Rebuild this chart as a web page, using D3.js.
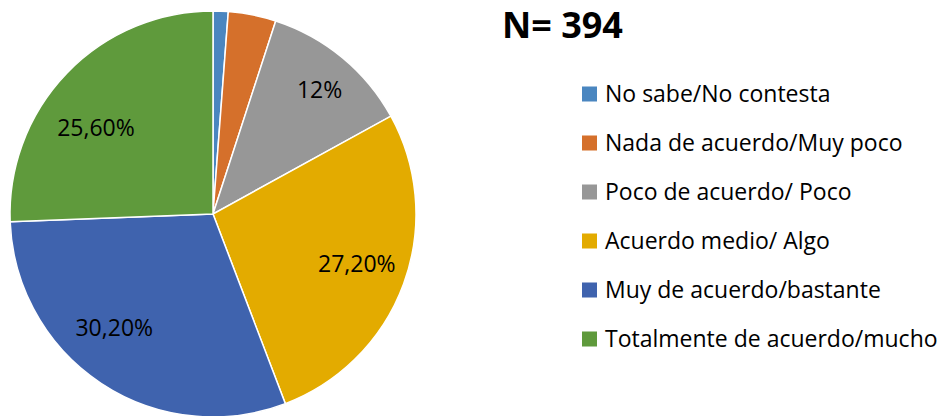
<!DOCTYPE html>
<html>
<head>
<meta charset="utf-8">
<script src="https://cdn.jsdelivr.net/npm/d3@7"></script>
<style>
  body { margin: 0; background: #fff; }
  text { font-family: "Open Sans", "Noto Sans", sans-serif; }
</style>
</head>
<body>
<div id="chart"></div>
<script>
// categories and shares (percent), clockwise from 12 o'clock
var categories = ['No sabe/No contesta', 'Nada de acuerdo/Muy poco', 'Poco de acuerdo/ Poco',
                  'Acuerdo medio/ Algo', 'Muy de acuerdo/bastante', 'Totalmente de acuerdo/mucho'];
var values = [1.2, 3.8, 12, 27.2, 30.2, 25.6];
var labels = ['', '', '12%', '27,20%', '30,20%', '25,60%'];
var colors = ['#4a86c0', '#d5702b', '#979797', '#e3ab00', '#3f63ae', '#5f9a3c'];
var title = 'N= 394';

// small nudges so the labels sit where the original placed them
var labelNudge = [[0, 0], [0, 0], [11, -8], [3, -2], [-16, -11], [-9, 18]];

var width = 944, height = 416;
var cx = 213, cy = 214, radius = 203;

var svg = d3.select('#chart').append('svg')
    .attr('width', width)
    .attr('height', height);

var data = categories.map(function(c, i) {
    return { name: c, value: values[i], label: labels[i], color: colors[i], nudge: labelNudge[i] };
});

var pie = d3.pie().sort(null).value(function(d) { return d.value; });
var arc = d3.arc().innerRadius(0).outerRadius(radius);
var labelArc = d3.arc().innerRadius(150).outerRadius(150);

var g = svg.append('g').attr('transform', 'translate(' + cx + ',' + cy + ')');

var slices = g.selectAll('.slice')
    .data(pie(data))
    .enter().append('g')
    .attr('class', 'slice');

slices.append('path')
    .attr('d', arc)
    .attr('fill', function(d) { return d.data.color; })
    .attr('stroke', '#fff')
    .attr('stroke-width', 1.5);

slices.append('text')
    .attr('transform', function(d) {
        var c = labelArc.centroid(d);
        return 'translate(' + (c[0] + d.data.nudge[0]) + ',' + (c[1] + d.data.nudge[1]) + ')';
    })
    .attr('text-anchor', 'middle')
    .attr('dy', '0.35em')
    .attr('font-size', 23)
    .attr('fill', '#000')
    .text(function(d) { return d.data.label; });

// title
svg.append('text')
    .attr('x', 502)
    .attr('y', 38)
    .attr('font-size', 36)
    .attr('font-weight', 'bold')
    .attr('fill', '#000')
    .text(title);

// legend
var legend = svg.append('g').attr('transform', 'translate(582,94)');
var item = legend.selectAll('.item')
    .data(data)
    .enter().append('g')
    .attr('class', 'item')
    .attr('transform', function(d, i) { return 'translate(0,' + (i * 49) + ')'; });

item.append('rect')
    .attr('x', 0).attr('y', -7.5)
    .attr('width', 15).attr('height', 15)
    .attr('fill', function(d) { return d.color; });

item.append('text')
    .attr('x', 23)
    .attr('dy', '0.35em')
    .attr('font-size', 23)
    .attr('fill', '#000')
    .text(function(d) { return d.name; });
</script>
</body>
</html>
